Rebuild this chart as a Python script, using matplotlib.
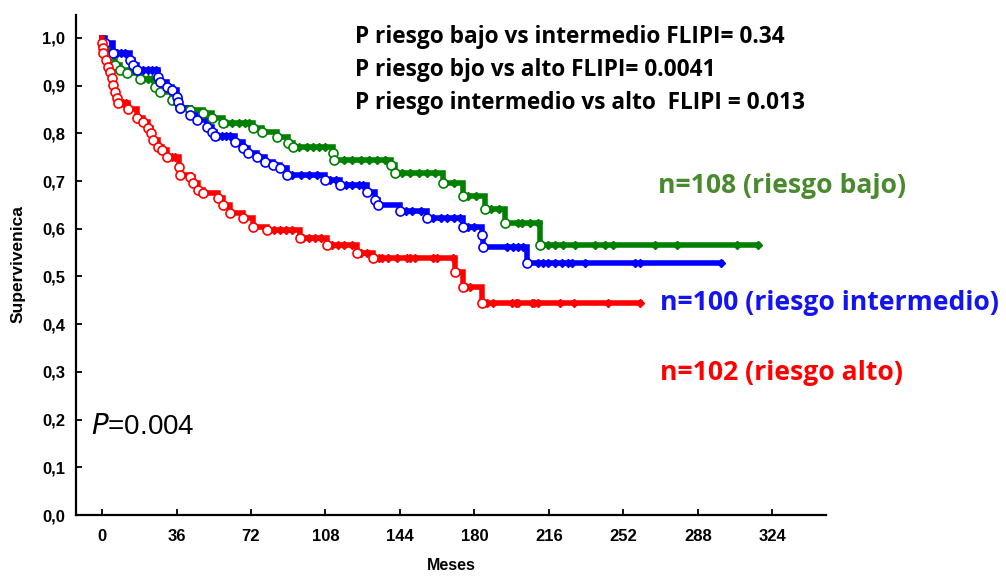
import numpy as np
import matplotlib
matplotlib.use("Agg")
import matplotlib.pyplot as plt

# Kaplan-Meier estimates by FLIPI risk group: event times (months) and survival after each event
bajo_t = [0.5, 3.0, 6.3, 8.7, 12.1, 18.4, 25.6, 28.0, 33.8, 37.7, 42.6, 48.8, 53.2, 58.5,
          73.0, 77.4, 84.6, 89.9, 92.4, 111.5, 112.2, 139.5, 141.7, 164.9, 174.6, 185.2,
          194.9, 211.8]
bajo_s = [0.985, 0.962, 0.943, 0.933, 0.927, 0.914, 0.897, 0.887, 0.870, 0.853, 0.849, 0.843,
          0.832, 0.822, 0.811, 0.803, 0.793, 0.780, 0.772, 0.759, 0.744, 0.733, 0.717, 0.696,
          0.669, 0.641, 0.612, 0.566]
bajo_end = 317.0
bajo_cens = [20, 22, 24, 60, 63, 66, 69, 71, 95, 99, 102, 105, 108, 117, 121, 125, 129, 133,
             137, 145, 149, 153, 157, 161, 166, 170, 177, 181, 188, 192, 201, 203, 207, 211,
             215.7, 219, 222.8, 228.7, 238.3, 243.2, 247, 267.4, 278, 307, 317]

inter_t = [1.5, 5.3, 13.5, 15.0, 16.9, 27.1, 28.0, 31.4, 33.8, 36.3, 36.8, 37.7, 42.6, 45.9,
           50.8, 53.2, 54.6, 64.3, 68.2, 70.6, 75.0, 78.8, 82.7, 86.1, 89.5, 107.8, 115.1,
           128.1, 132.0, 133.5, 144.1, 157.2, 174.6, 183.8, 184.3, 205.5]
inter_s = [0.990, 0.968, 0.954, 0.943, 0.933, 0.918, 0.908, 0.897, 0.891, 0.876, 0.866, 0.853,
           0.839, 0.828, 0.813, 0.803, 0.795, 0.782, 0.769, 0.759, 0.751, 0.740, 0.734, 0.727,
           0.713, 0.702, 0.692, 0.677, 0.660, 0.650, 0.637, 0.623, 0.604, 0.587, 0.562, 0.528]
inter_end = 299.0
inter_cens = [7, 9, 11, 18, 20, 22, 24, 26, 56, 58, 60, 62, 92, 96, 100, 104, 110, 113, 118,
              121, 124, 126, 147, 150, 154, 160, 164, 167, 170, 173, 177, 180, 196, 198.7, 201,
              203.6, 210.8, 213.2, 215.7, 219, 222.4, 225.3, 227.3, 233.6, 257.7, 260.2, 299]

alto_t = [0.0, 0.3, 0.5, 1.9, 2.9, 3.9, 4.8, 5.3, 6.3, 7.3, 7.7, 12.6, 16.9, 19.8, 22.2, 23.7,
          24.7, 27.1, 29.0, 31.4, 37.2, 37.7, 42.6, 44.0, 46.4, 48.8, 56.1, 58.5, 61.9, 68.2,
          73.0, 79.8, 95.7, 108.8, 123.3, 131.0, 170.7, 174.6, 183.8]
alto_s = [0.990, 0.979, 0.968, 0.954, 0.940, 0.929, 0.916, 0.901, 0.887, 0.874, 0.863, 0.851,
          0.832, 0.824, 0.811, 0.800, 0.786, 0.772, 0.765, 0.750, 0.730, 0.713, 0.709, 0.696,
          0.681, 0.675, 0.665, 0.650, 0.633, 0.623, 0.604, 0.598, 0.581, 0.566, 0.549, 0.539,
          0.509, 0.478, 0.444]
alto_end = 260.0
alto_cens = [8.5, 10, 11.5, 32.5, 34, 35.5, 80, 83, 86, 89, 92, 97, 100, 103, 106, 111, 114,
             117, 121, 125, 128, 134, 135.5, 138, 142.6, 147.5, 149, 151.4, 160, 162, 169.7,
             176, 178, 186, 189, 198, 200, 201, 208, 209, 211, 221.5, 228, 244.5, 260]

series = [
    ("bajo", bajo_t, bajo_s, bajo_end, bajo_cens, "#008000"),
    ("intermedio", inter_t, inter_s, inter_end, inter_cens, "#0000FF"),
    ("alto", alto_t, alto_s, alto_end, alto_cens, "#FF0000"),
]

x_ticks = [0, 36, 72, 108, 144, 180, 216, 252, 288, 324]
y_ticks = [0.0, 0.1, 0.2, 0.3, 0.4, 0.5, 0.6, 0.7, 0.8, 0.9, 1.0]
y_ticklabels = ["0,0", "0,1", "0,2", "0,3", "0,4", "0,5", "0,6", "0,7", "0,8", "0,9", "1,0"]

pvalue_lines = [
    "P riesgo bajo vs intermedio FLIPI= 0.34",
    "P riesgo bjo vs alto FLIPI= 0.0041",
    "P riesgo intermedio vs alto  FLIPI = 0.013",
]
group_labels = [
    ("n=108 (riesgo bajo)", "#4A8A2E"),
    ("n=100 (riesgo intermedio)", "#1414EE"),
    ("n=102 (riesgo alto)", "#FF0000"),
]

W, H = 1006, 577
fig = plt.figure(figsize=(W / 100, H / 100), dpi=100)
ax = fig.add_axes([76 / W, 1 - 515 / H, (826 - 76) / W, (515 - 15) / H])

for name, t, s, t_end, cens, col in series:
    t = np.asarray(t, float)
    s = np.asarray(s, float)
    xs = np.concatenate([[0.0], t, [t_end]])
    ys = np.concatenate([[1.0], s, [s[-1]]])
    ax.step(xs, ys, where="post", color=col, lw=4.0, solid_joinstyle="miter", zorder=2)
    # censored observations
    c = np.asarray(cens, float)
    idx = np.searchsorted(t, c, side="right") - 1
    cs = np.where(idx >= 0, s[np.clip(idx, 0, None)], 1.0)
    ax.plot(c, cs, ls="none", marker="D", ms=4.2, color=col, mec=col, zorder=3)
    # observed events
    ax.plot(t, s, ls="none", marker="o", ms=6.5, mfc="white", mec=col, mew=1.2, zorder=4)

ax.set_xlim(-12.6, 350)
ax.set_ylim(0, 1.048)
ax.spines["top"].set_visible(False)
ax.spines["right"].set_visible(False)
for sp in ("left", "bottom"):
    ax.spines[sp].set_linewidth(1.6)

tick_font = dict(family="Liberation Sans", weight="bold", size=12)
ax.set_xticks(x_ticks)
ax.set_xticklabels([str(v) for v in x_ticks], fontdict=tick_font)
ax.set_yticks(y_ticks)
ax.set_yticklabels(y_ticklabels, fontdict=tick_font)
ax.tick_params(axis="both", direction="in", length=4, width=1.3, colors="black")
ax.tick_params(axis="x", pad=10)
ax.tick_params(axis="y", pad=8)

fig.text(451 / W, 1 - 566 / H, "Meses", ha="center", va="center",
         family="Liberation Sans", weight="bold", size=11.5)
fig.text(18 / W, 1 - 264 / H, "Supervivenica", ha="center", va="center", rotation=90,
         family="Liberation Sans", weight="bold", size=12.5)

for i, line in enumerate(pvalue_lines):
    fig.text(355 / W, 1 - (43 + 33 * i) / H, line, ha="left", va="baseline",
             family="Open Sans", weight="bold", size=16.3, color="black")

for (label, col), (x0, yb) in zip(group_labels, [(658, 193), (660, 310), (660, 380)]):
    fig.text(x0 / W, 1 - yb / H, label, ha="left", va="baseline",
             family="Open Sans", weight="bold", size=19.1, color=col)

fig.text(91 / W, 1 - 434 / H, r"$\mathit{P}$=0.004", ha="left", va="baseline",
         family="Liberation Sans", size=20, color="black")

fig.savefig("out.png", dpi=100, facecolor="white")
